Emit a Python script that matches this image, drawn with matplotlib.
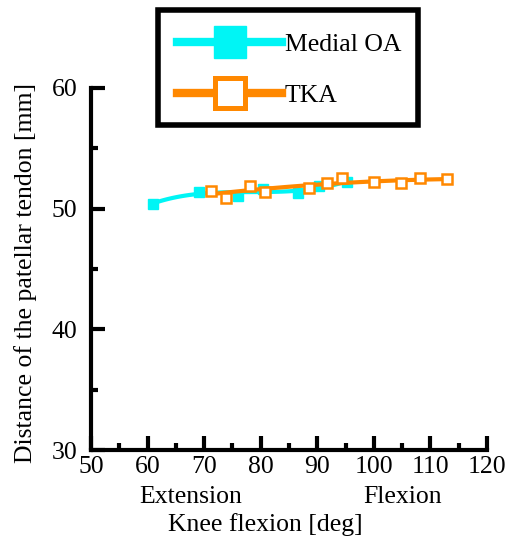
import numpy as np
import matplotlib
matplotlib.use("Agg")
import matplotlib.pyplot as plt
from matplotlib.lines import Line2D

plt.rcParams['font.family'] = ['Liberation Serif', 'DejaVu Serif']

# Data
oa_x = [61.0, 69.1, 76.0, 80.4, 86.6, 90.3, 95.2]
oa_y = [50.4, 51.4, 51.05, 51.6, 51.3, 51.9, 52.2]
tka_x = [71.2, 73.9, 78.1, 80.7, 88.5, 91.7, 94.3, 100.0, 104.8, 108.1, 112.9]
tka_y = [51.45, 50.9, 51.9, 51.4, 51.7, 52.1, 52.5, 52.2, 52.1, 52.5, 52.45]

labels = ["Medial OA", "TKA"]
cyan = '#00F5F5'
orange = '#FF8800'
FS = 18.5

fig = plt.figure(figsize=(5.12, 5.39), dpi=100)
ax = fig.add_axes([0.178, 0.165, 0.773, 0.672])

# fitted trend curves
xs1 = np.linspace(min(oa_x), max(oa_x), 100)
p1 = np.polyfit(oa_x, oa_y, 3)
xs2 = np.linspace(min(tka_x), max(tka_x), 100)
p2 = np.polyfit(tka_x, tka_y, 2)

ax.plot(xs1, np.polyval(p1, xs1), color=cyan, lw=3, zorder=2)
ax.plot(oa_x, oa_y, 's', color=cyan, ms=7.5, zorder=3)
ax.plot(xs2, np.polyval(p2, xs2), color=orange, lw=3, zorder=4)
ax.plot(tka_x, tka_y, 's', mfc='white', mec=orange, mew=1.8, ms=7, zorder=5)

ax.set_xlim(50, 120)
ax.set_ylim(30, 60)
ax.set_xticks(np.arange(50, 121, 10))
ax.set_yticks(np.arange(30, 61, 10))
ax.set_xticks(np.arange(55, 120, 10), minor=True)
ax.set_yticks(np.arange(35, 60, 10), minor=True)
for s in ['top', 'right']:
    ax.spines[s].set_visible(False)
for s in ['left', 'bottom']:
    ax.spines[s].set_linewidth(3)
ax.tick_params(which='major', direction='in', length=10, width=3, labelsize=FS)
ax.tick_params(axis='x', which='major', pad=4)
ax.tick_params(axis='y', which='major', pad=10)
ax.tick_params(which='minor', direction='in', length=5, width=3)
ax.set_ylabel("Distance of the patellar tendon [mm]", fontsize=FS)
ax.yaxis.set_label_coords(-0.137, 0.49)

fig.text(191/512, 1-497/539, "Extension", ha='center', va='center', fontsize=FS)
fig.text(403/512, 1-497/539, "Flexion", ha='center', va='center', fontsize=FS)
fig.text(265/512, 1-525/539, "Knee flexion [deg]", ha='center', va='center', fontsize=FS)

# legend
h1 = Line2D([], [], color=cyan, lw=6, marker='s', ms=23, mfc=cyan, mec=cyan)
h2 = Line2D([], [], color=orange, lw=6, marker='s', ms=21, mfc='white', mec=orange, mew=3.6)
leg = fig.legend([h1, h2], labels, loc='upper left',
                 bbox_to_anchor=(154/512, 1-125/539, 264/512, 115/539),
                 mode='expand', fontsize=FS, frameon=False,
                 handlelength=4.1, handletextpad=0.1, borderpad=0.9,
                 labelspacing=1.1, borderaxespad=0)
from matplotlib.patches import Rectangle
fig.patches.append(Rectangle((158/512, 1-125/539), 260/512, 115/539,
                             transform=fig.transFigure, fill=False,
                             edgecolor='black', linewidth=4, zorder=10))

fig.savefig("out.png", dpi=100)
